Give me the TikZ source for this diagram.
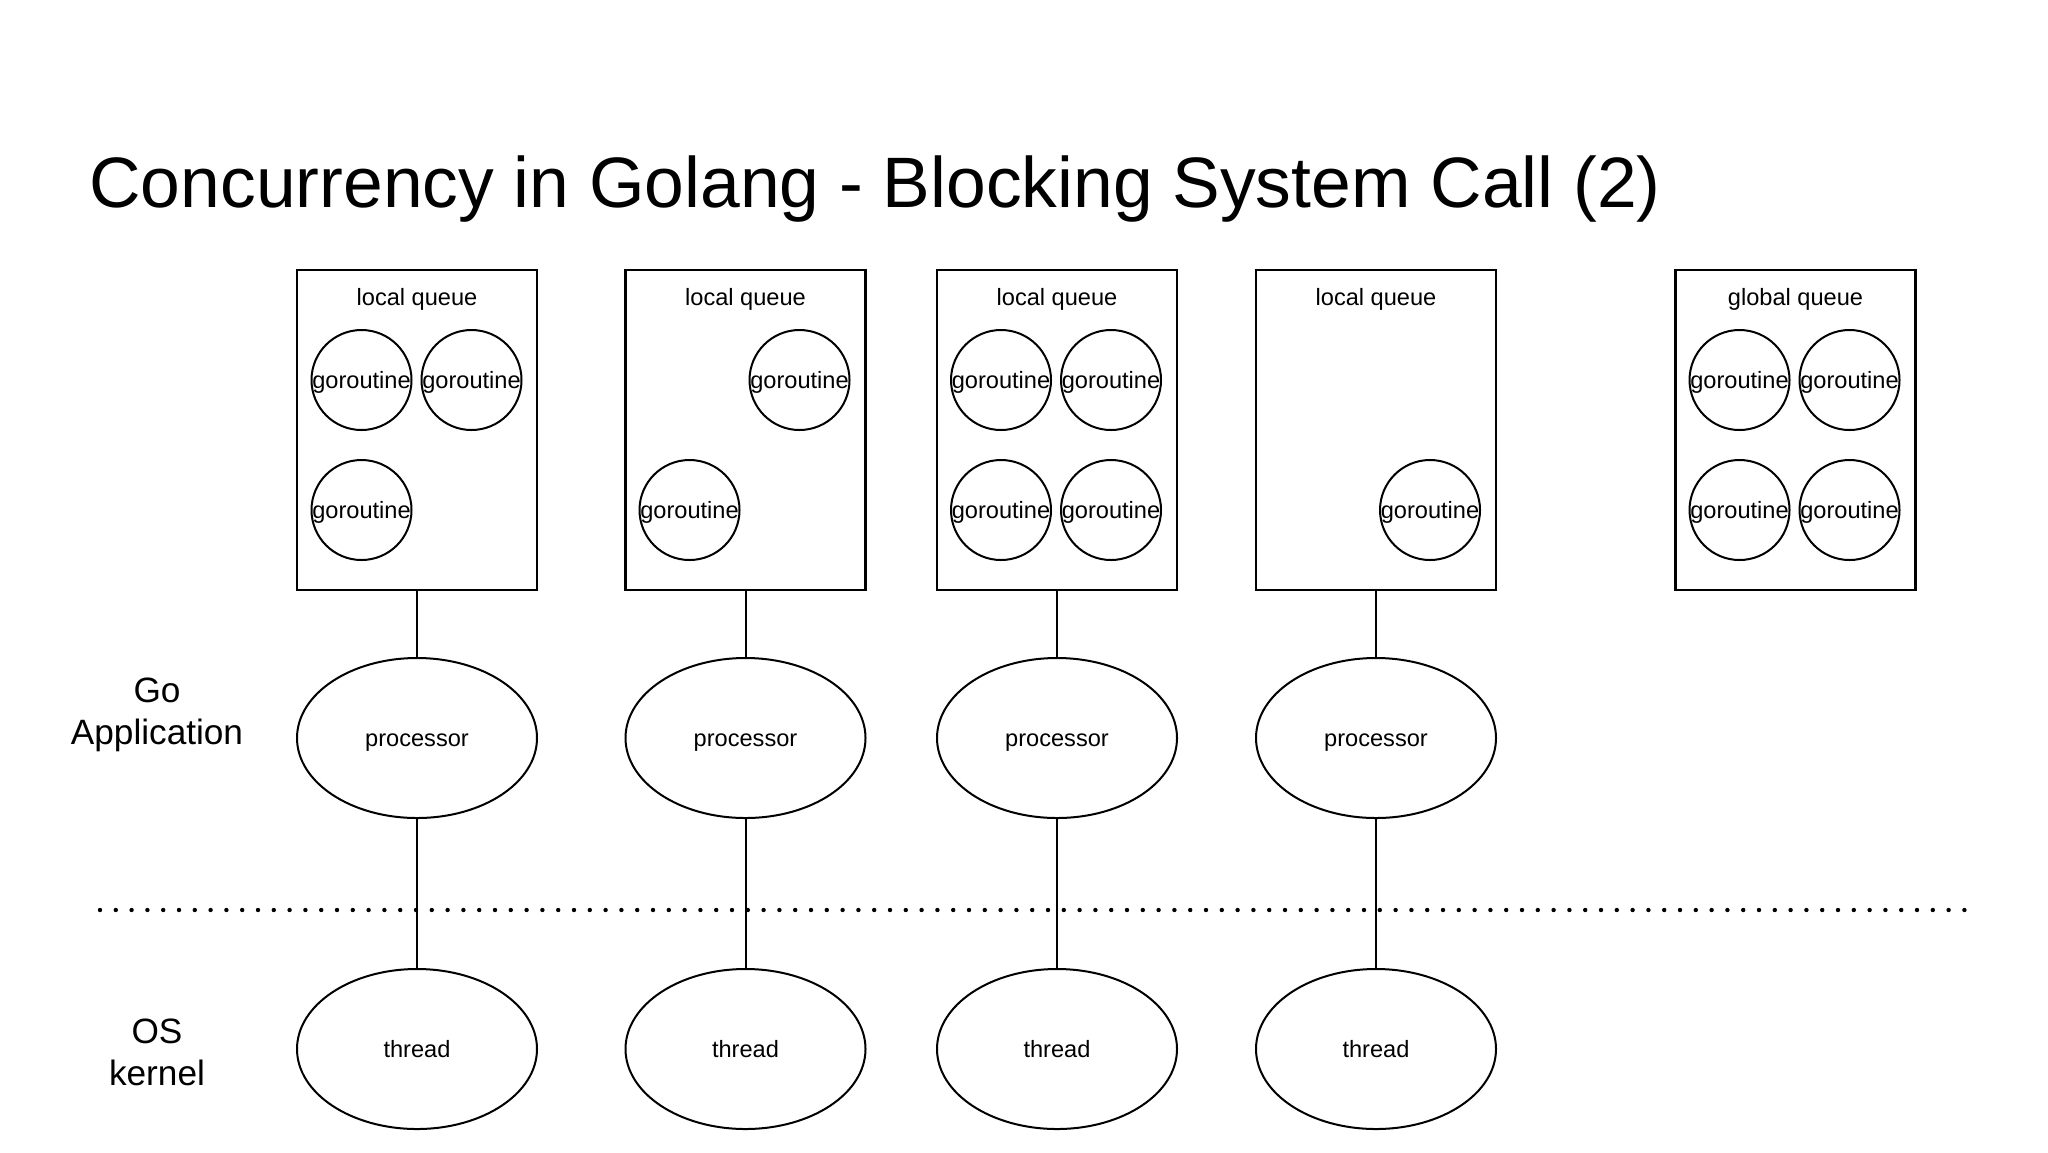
\documentclass[tikz,border=0pt]{standalone}
\usepackage{fontspec}
\setmainfont{Liberation Sans}
\usetikzlibrary{shapes.geometric}
\newcommand\grtext{\makebox[0pt]{goroutine}}
\begin{document}
\begin{tikzpicture}[x=0.5pt,y=-0.5pt,
  box/.style={draw, line width=1.1pt, minimum width=120pt, minimum height=160pt, inner sep=0pt},
  qlabel/.style={anchor=base, inner sep=0pt, font=\fontsize{11.8}{14}\selectfont},
  gr/.style={draw, circle, line width=1pt, minimum size=50pt, inner sep=0pt, font=\fontsize{11.8}{14}\selectfont, text height=10pt, text depth=2pt},
  oval/.style={draw, ellipse, line width=1pt, minimum width=120pt, minimum height=80pt, inner sep=0pt, font=\fontsize{11.8}{14}\selectfont, text height=10pt, text depth=2pt},
  side/.style={align=center, inner sep=0pt, font=\fontsize{17.6}{21}\selectfont},
  conn/.style={line width=1pt},
  dots/.style={line width=2.2pt, line cap=round, dash pattern=on 0pt off 7.9pt}
]
\useasboundingbox (0,0) rectangle (2048,1152);

% title
\node[anchor=base west, inner sep=0pt, font=\fontsize{35.7}{42}\selectfont] (title) at (89,207) {Concurrency in Golang - Blocking System Call (2)};

% side labels
\node[side] (goapp) at (157,715) {Go\\Application};
\node[side] (oskern) at (157,1052) {OS\\kernel};

% queues
\node[box] (q1) at (417,430) {};
\node[box] (q2) at (745.5,430) {};
\node[box] (q3) at (1057,430) {};
\node[box] (q4) at (1376,430) {};
\node[box] (gq) at (1795.5,430) {};

\node[qlabel] (lq1) at (417,305) {local queue};
\node[qlabel] (lq2) at (745.5,305) {local queue};
\node[qlabel] (lq3) at (1057,305) {local queue};
\node[qlabel] (lq4) at (1376,305) {local queue};
\node[qlabel] (glq) at (1795.5,305) {global queue};

% goroutines
\node[gr] (g11) at (361.5,380) {\grtext};
\node[gr] (g12) at (471.5,380) {\grtext};
\node[gr] (g13) at (361.5,510) {\grtext};

\node[gr] (g21) at (799.5,380) {\grtext};
\node[gr] (g22) at (689.5,510) {\grtext};

\node[gr] (g31) at (1001,380) {\grtext};
\node[gr] (g32) at (1111,380) {\grtext};
\node[gr] (g33) at (1001,510) {\grtext};
\node[gr] (g34) at (1111,510) {\grtext};

\node[gr] (g41) at (1430,510) {\grtext};

\node[gr] (gg1) at (1739.5,380) {\grtext};
\node[gr] (gg2) at (1849.5,380) {\grtext};
\node[gr] (gg3) at (1739.5,510) {\grtext};
\node[gr] (gg4) at (1849.5,510) {\grtext};

% processors and threads
\node[oval] (p1) at (417,738) {processor};
\node[oval] (p2) at (745.5,738) {processor};
\node[oval] (p3) at (1057,738) {processor};
\node[oval] (p4) at (1376,738) {processor};

\node[oval] (t1) at (417,1049) {thread};
\node[oval] (t2) at (745.5,1049) {thread};
\node[oval] (t3) at (1057,1049) {thread};
\node[oval] (t4) at (1376,1049) {thread};

% dotted separator
\coordinate (dl) at (100,910);
\coordinate (dr) at (1975,910);
\draw[dots] (dl) -- (dr);

% connectors
\foreach \i in {1,2,3,4}{
  \draw[conn] (q\i.south) -- (p\i.north);
  \draw[conn] (p\i.south) -- (t\i.north);
}
\end{tikzpicture}
\end{document}
